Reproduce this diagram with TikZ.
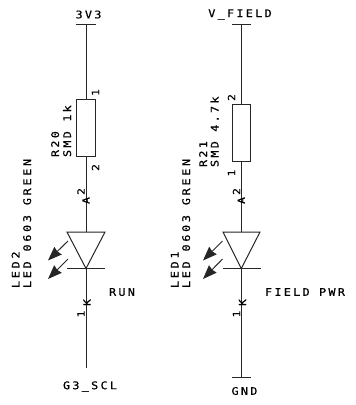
\documentclass[tikz,border=0pt]{standalone}
\usepackage{fontspec}
\setmonofont{DejaVu Sans Mono}
\newfontfamily\cadfont[FakeStretch=1.12,LetterSpace=22,FakeBold=0.6]{DejaVu Sans Mono}
\newfontfamily\cadwide[FakeStretch=1.12,LetterSpace=26,FakeBold=0.6]{DejaVu Sans Mono}
\usetikzlibrary{arrows.meta}
\tikzset{
  x=1pt,y=-1pt,
  wire/.style={line width=1pt,draw=black!85},
  part/.style={line width=1pt,draw=black!85,fill=white,inner sep=0pt,outer sep=0pt,rectangle},
  lbl/.style={inner sep=0pt,outer sep=0pt,font=\cadfont\fontsize{10.5}{10.5}\selectfont,text=black},
  ver/.style={lbl,rotate=90,anchor=base west},
  verwide/.style={ver,font=\cadwide\fontsize{10.5}{10.5}\selectfont},
  pin/.style={inner sep=0pt,outer sep=0pt,font=\cadfont\fontsize{10}{10}\selectfont,rotate=90,text=black},
  glow/.style={line width=1pt,draw=black!85,-{Stealth[inset=1pt,length=14pt,width=10.5pt]}}
}
\begin{document}
\begin{tikzpicture}
\useasboundingbox (0,0) rectangle (356,405);
% left branch
\coordinate (a1) at (86,24);
\coordinate (a1l) at (76,24);
\coordinate (a1r) at (96,24);
\node[part,minimum width=18.5pt,minimum height=56.5pt] (r20) at (86,128) {};
\coordinate (ltop) at (86,232);
\coordinate (ltl) at (67,232);
\coordinate (ltr) at (105,232);
\coordinate (lapex) at (86,268.5);
\coordinate (lbl) at (67,268.5);
\coordinate (lbr) at (105,268.5);
\coordinate (lend) at (86,368);
\draw[wire] (a1l) -- (a1r);
\draw[wire] (a1) -- (r20.north);
\draw[wire] (r20.south) -- (ltop);
\draw[wire] (ltl) -- (ltr) -- (lapex) -- cycle;
\draw[wire] (lbl) -- (lbr);
\draw[wire] (lapex) -- (lend);
\coordinate (la1s) at (68,241); \coordinate (la1e) at (48,260.5);
\coordinate (la2s) at (68,259); \coordinate (la2e) at (48,279);
\draw[glow] (la1s) -- (la1e);
\draw[glow] (la2s) -- (la2e);
% right branch
\coordinate (b1) at (241.3,24);
\coordinate (b1l) at (232,24);
\coordinate (b1r) at (251,24);
\node[part,minimum width=18.5pt,minimum height=56.5pt] (r21) at (241.3,133) {};
\coordinate (rtop) at (241.3,232);
\coordinate (rtl) at (223,232);
\coordinate (rtr) at (260,232);
\coordinate (rapex) at (241.3,268.5);
\coordinate (rbl) at (222.5,268.5);
\coordinate (rbr) at (260.5,268.5);
\coordinate (rend) at (241.3,377);
\coordinate (rgl) at (232,377);
\coordinate (rgr) at (251,377);
\draw[wire] (b1l) -- (b1r);
\draw[wire] (b1) -- (r21.north);
\draw[wire] (r21.south) -- (rtop);
\draw[wire] (rtl) -- (rtr) -- (rapex) -- cycle;
\draw[wire] (rbl) -- (rbr);
\draw[wire] (rapex) -- (rend);
\draw[wire] (rgl) -- (rgr);
\coordinate (ra1s) at (222.5,241); \coordinate (ra1e) at (203,260.5);
\coordinate (ra2s) at (222.5,259); \coordinate (ra2e) at (203,279);
\draw[glow] (ra1s) -- (ra1e);
\draw[glow] (ra2s) -- (ra2e);
% net labels
\node[lbl] (n3v3) at (88.5,14.5) {3V3};
\node[lbl] (nvf) at (240,14.5) {V\_FIELD};
\node[lbl] (ng3) at (90,386.5) {G3\_SCL};
\node[lbl] (ngnd) at (244.5,391) {GND};
\node[lbl] (nrun) at (122,292) {RUN};
\node[lbl] (nfp) at (305,292) {FIELD PWR};
% values
\node[ver] (t1) at (59,157) {R20};
\node[ver] (t2) at (71,157) {SMD 1k};
\node[ver] (t3) at (207,167) {R21};
\node[ver] (t4) at (218.5,167) {SMD 4.7k};
\node[verwide] (t5) at (19.5,288) {LED2};
\node[verwide] (t6) at (31,288) {LED 0603 GREEN};
\node[verwide] (t7) at (178.5,288) {LED1};
\node[verwide] (t8) at (190,288) {LED 0603 GREEN};
% pins
\node[pin] (p1) at (95.5,92.5) {1};
\node[pin] (p2) at (95.5,167.5) {2};
\node[pin] (p3) at (81,191.5) {2};
\node[pin] (p4) at (86,200.5) {A};
\node[pin] (p5) at (87,302.5) {K};
\node[pin] (p6) at (81,314) {1};
\node[pin] (p7) at (231.5,97.5) {2};
\node[pin] (p8) at (231.5,173) {1};
\node[pin] (p9) at (236.5,191.5) {2};
\node[pin] (p10) at (241.3,200.5) {A};
\node[pin] (p11) at (242.5,302.5) {K};
\node[pin] (p12) at (236.5,314) {1};
\end{tikzpicture}
\end{document}
